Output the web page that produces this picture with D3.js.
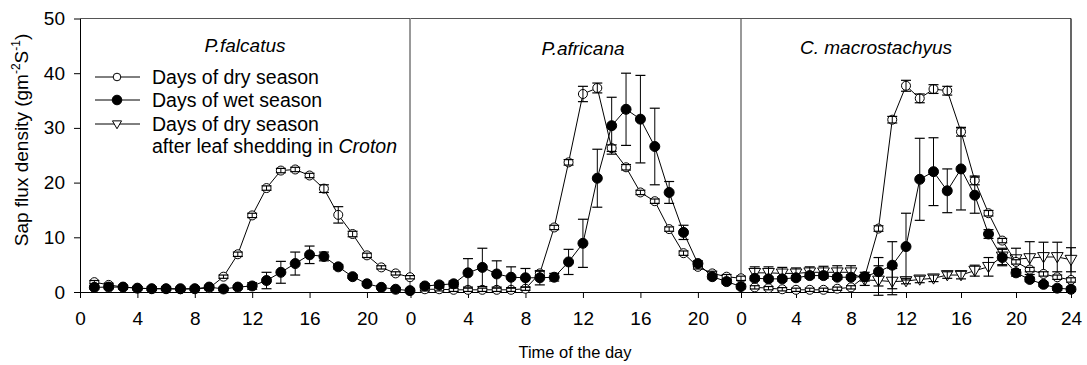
<!DOCTYPE html>
<html>
<head>
<meta charset="utf-8">
<script src="https://cdn.jsdelivr.net/npm/d3@7"></script>
<style>
  body { margin: 0; background: #fff; }
  text { font-family: "Liberation Sans", Arial, sans-serif; }
</style>
</head>
<body>
<div id="chart-area"></div>
<script>
// hours of the day for each panel
let hours23 = d3.range(1, 24);
let hours24 = d3.range(1, 25);

let panelNames = ["P.falcatus", "P.africana", "C. macrostachyus"];
let xTicksShort = [0, 4, 8, 12, 16, 20];
let xTicksLong = [0, 4, 8, 12, 16, 20, 24];
let yTicks = [0, 10, 20, 30, 40, 50];

// P.falcatus
let falcDry = [1.8, 1.3, 0.9, 0.7, 0.6, 0.6, 0.5, 0.6, 0.7, 2.8, 6.9, 14.0, 19.0, 22.2, 22.4, 21.3, 18.9, 14.1, 10.6, 6.7, 4.5, 3.4, 2.7];
let falcDryErr = [0.3, 0.3, 0.3, 0.3, 0.3, 0.3, 0.3, 0.3, 0.3, 0.3, 0.4, 0.4, 0.4, 0.4, 0.4, 0.4, 0.7, 1.5, 0.5, 0.4, 0.3, 0.3, 0.3];
let falcWet = [0.85, 0.9, 0.9, 0.7, 0.6, 0.6, 0.6, 0.6, 0.9, 0.55, 0.9, 1.1, 2.1, 3.6, 5.2, 6.8, 6.5, 4.6, 2.8, 1.5, 0.85, 0.5, 0.25];
let falcWetErr = [0.3, 0.3, 0.3, 0.3, 0.3, 0.3, 0.3, 0.3, 0.3, 0.3, 0.3, 0.6, 1.5, 2.0, 2.1, 1.6, 0.8, 0.4, 0.3, 0.3, 0.3, 0.3, 0.3];

// P.africana
let afrDry = [0.5, 0.5, 0.4, 0.4, 0.4, 0.4, 0.4, 0.6, 3.4, 11.8, 23.7, 36.2, 37.3, 26.3, 22.8, 18.2, 16.6, 11.5, 7.1, 4.6, 3.4, 2.8, 2.5];
let afrDryErr = [0.3, 0.3, 0.3, 0.3, 0.3, 0.3, 0.3, 0.3, 0.4, 0.4, 0.5, 1.4, 0.9, 0.6, 0.5, 0.4, 0.4, 0.4, 0.4, 0.4, 0.4, 0.4, 0.4];
let afrWet = [1.1, 1.3, 1.5, 3.5, 4.5, 3.3, 2.7, 2.6, 2.6, 2.7, 5.5, 8.9, 20.8, 30.4, 33.4, 31.6, 26.6, 18.2, 10.9, 5.2, 2.8, 1.9, 1.0];
let afrWetErr = [0.4, 0.4, 0.5, 2.6, 3.5, 2.4, 1.9, 1.7, 1.3, 0.7, 2.3, 4.4, 5.3, 5.2, 6.6, 8.0, 7.0, 2.0, 1.3, 0.5, 0.4, 0.4, 0.4];

// C. macrostachyus
let croDry = [0.85, 0.7, 0.5, 0.4, 0.4, 0.4, 0.6, 0.85, 2.8, 11.6, 31.5, 37.7, 35.4, 37.1, 36.8, 29.3, 20.4, 14.4, 9.4, 5.5, 4.1, 3.3, 2.7, 2.2];
let croDryErr = [0.3, 0.3, 0.3, 0.3, 0.3, 0.3, 0.3, 0.3, 0.4, 0.5, 0.6, 1.0, 0.8, 0.8, 0.8, 0.8, 0.8, 0.5, 0.4, 0.4, 0.4, 0.4, 0.4, 0.4];
let croWet = [2.5, 2.4, 2.4, 2.6, 3.0, 3.0, 2.7, 2.7, 2.8, 3.7, 4.9, 8.3, 20.6, 22.0, 18.5, 22.5, 17.7, 10.6, 6.3, 3.5, 2.3, 1.4, 0.7, 0.5];
let croWetErr = [0.4, 0.4, 0.4, 0.4, 0.4, 0.4, 0.4, 0.4, 0.8, 2.6, 4.3, 6.1, 7.5, 6.2, 4.0, 7.5, 3.3, 0.8, 1.5, 0.6, 0.4, 0.4, 0.4, 0.4];
let croShed = [3.5, 3.5, 3.4, 3.4, 3.6, 3.6, 3.6, 3.6, 2.2, 2.1, 1.9, 2.0, 2.3, 2.5, 3.1, 3.1, 3.9, 4.6, 6.5, 6.0, 6.2, 6.4, 6.4, 5.9];
let croShedErr = [1.1, 1.1, 1.1, 1.0, 1.0, 1.1, 1.2, 1.2, 1.0, 2.7, 2.4, 0.5, 0.6, 0.6, 0.6, 0.7, 1.0, 1.7, 1.5, 2.0, 3.0, 2.7, 2.7, 2.2];

let width = 1087, height = 365;

let svg = d3.select("#chart-area")
  .append("svg")
  .attr("width", width)
  .attr("height", height);

let y = d3.scaleLinear().domain([0, 50]).range([292, 18.5]);

let panels = [
  { name: panelNames[0], left: 80, right: 410, max: 23, ticks: xTicksShort, hours: hours23, titleX: 245, titleY: 52,
    series: [ { v: falcDry, e: falcDryErr, type: "open" }, { v: falcWet, e: falcWetErr, type: "filled" } ] },
  { name: panelNames[1], left: 410.5, right: 741, max: 23, ticks: xTicksShort, hours: hours23, titleX: 583, titleY: 55,
    series: [ { v: afrDry, e: afrDryErr, type: "open" }, { v: afrWet, e: afrWetErr, type: "filled" } ] },
  { name: panelNames[2], left: 741, right: 1071, max: 24, ticks: xTicksLong, hours: hours24, titleX: 876, titleY: 54,
    series: [ { v: croShed, e: croShedErr, type: "tri" }, { v: croDry, e: croDryErr, type: "open" }, { v: croWet, e: croWetErr, type: "filled" } ] }
];

let tri = d3.symbol().type(d3.symbolTriangle).size(60);

function drawMarker(g, type, cx, cy) {
  if (type == "tri") {
    g.append("path")
      .attr("d", tri)
      .attr("transform", "translate(" + cx + "," + (cy - 1) + ") rotate(180)")
      .attr("fill", "#fff")
      .attr("stroke", "#000")
      .attr("stroke-width", 1);
  } else {
    g.append("circle")
      .attr("cx", cx)
      .attr("cy", cy)
      .attr("r", type == "open" ? 4.5 : 5)
      .attr("fill", type == "open" ? "#fff" : "#000")
      .attr("stroke", "#000")
      .attr("stroke-width", 1);
  }
}

panels.forEach(function(p, i) {
  let x = d3.scaleLinear().domain([0, p.max]).range([p.left, p.right]);
  let g = svg.append("g");

  // frame: top and right
  g.append("line")
    .attr("x1", p.left).attr("x2", p.right)
    .attr("y1", y(50)).attr("y2", y(50))
    .attr("stroke", "#555").attr("stroke-width", 1.2);
  g.append("line")
    .attr("x1", p.right).attr("x2", p.right)
    .attr("y1", y(50)).attr("y2", y(0))
    .attr("stroke", i == 2 ? "#000" : "#555").attr("stroke-width", 1.2);

  // x axis
  let xAxis = d3.axisBottom(x).tickValues(p.ticks).tickSize(6).tickSizeOuter(0);
  let xg = g.append("g")
    .attr("transform", "translate(0," + y(0) + ")")
    .call(xAxis);
  xg.select(".domain").attr("stroke", "#000");
  xg.selectAll("text")
    .attr("font-size", 19)
    .attr("dy", "1.25em")
    .attr("fill", "#000")
    .style("font-family", "Liberation Sans, Arial, sans-serif");

  // panel title
  g.append("text")
    .attr("x", p.titleX)
    .attr("y", p.titleY)
    .attr("text-anchor", "middle")
    .attr("font-size", 19)
    .attr("font-style", "italic")
    .text(p.name);

  p.series.forEach(function(s) {
    let pts = p.hours.map(function(h, k) { return { h: h, v: s.v[k], e: s.e[k] }; });

    let line = d3.line()
      .x(function(d) { return x(d.h); })
      .y(function(d) { return y(d.v); });
    g.append("path")
      .datum(pts)
      .attr("d", line)
      .attr("fill", "none")
      .attr("stroke", "#000")
      .attr("stroke-width", 1);

    pts.forEach(function(d) {
      drawMarker(g, s.type, x(d.h), y(d.v));
    });

    // error bars on top of the markers
    pts.forEach(function(d) {
      let cx = x(d.h);
      g.append("line")
        .attr("x1", cx).attr("x2", cx)
        .attr("y1", y(d.v - d.e)).attr("y2", y(d.v + d.e))
        .attr("stroke", "#000").attr("stroke-width", 1);
      [d.v - d.e, d.v + d.e].forEach(function(val) {
        g.append("line")
          .attr("x1", cx - 5).attr("x2", cx + 5)
          .attr("y1", y(val)).attr("y2", y(val))
          .attr("stroke", "#000").attr("stroke-width", 1.2);
      });
    });
  });
});

// y axis
let yAxis = d3.axisLeft(y).tickValues(yTicks).tickSize(6).tickSizeOuter(0);
let yg = svg.append("g")
  .attr("transform", "translate(80,0)")
  .call(yAxis);
yg.selectAll("text")
  .attr("font-size", 19)
  .attr("fill", "#000")
  .attr("x", -15)
  .style("font-family", "Liberation Sans, Arial, sans-serif");

// legend
let legendItems = [
  { type: "open", label: "Days of dry season", yy: 77 },
  { type: "filled", label: "Days of wet season", yy: 100 },
  { type: "tri", label: "Days of dry season", yy: 124 }
];
let lg = svg.append("g");
legendItems.forEach(function(d) {
  lg.append("line")
    .attr("x1", 95).attr("x2", 140)
    .attr("y1", d.yy).attr("y2", d.yy)
    .attr("stroke", "#000").attr("stroke-width", 1);
  if (d.type == "tri") {
    lg.append("path")
      .attr("d", d3.symbol().type(d3.symbolTriangle).size(36))
      .attr("transform", "translate(117," + (d.yy - 0.5) + ") rotate(180)")
      .attr("fill", "#fff").attr("stroke", "#000");
  } else {
    lg.append("circle")
      .attr("cx", 117).attr("cy", d.yy)
      .attr("r", d.type == "open" ? 3.8 : 4.8)
      .attr("fill", d.type == "open" ? "#fff" : "#000")
      .attr("stroke", "#000");
  }
  lg.append("text")
    .attr("x", 152).attr("y", d.yy + 6.5)
    .attr("font-size", 19.5)
    .text(d.label);
});
let extra = lg.append("text")
  .attr("x", 152).attr("y", 153)
  .attr("font-size", 19.5);
extra.append("tspan").text("after leaf shedding in ");
extra.append("tspan").attr("font-style", "italic").text("Croton");

// axis titles
svg.append("text")
  .attr("x", 575)
  .attr("y", 358)
  .attr("text-anchor", "middle")
  .attr("font-size", 16.5)
  .text("Time of the day");

let yt = svg.append("text")
  .attr("transform", "translate(28,140) rotate(-90)")
  .attr("text-anchor", "middle")
  .attr("font-size", 19);
yt.append("tspan").text("Sap flux density (gm");
yt.append("tspan").attr("dy", -8).attr("font-size", 12).text("-2");
yt.append("tspan").attr("dy", 8).text("S");
yt.append("tspan").attr("dy", -8).attr("font-size", 12).text("-1");
yt.append("tspan").attr("dy", 8).text(")");
</script>
</body>
</html>
